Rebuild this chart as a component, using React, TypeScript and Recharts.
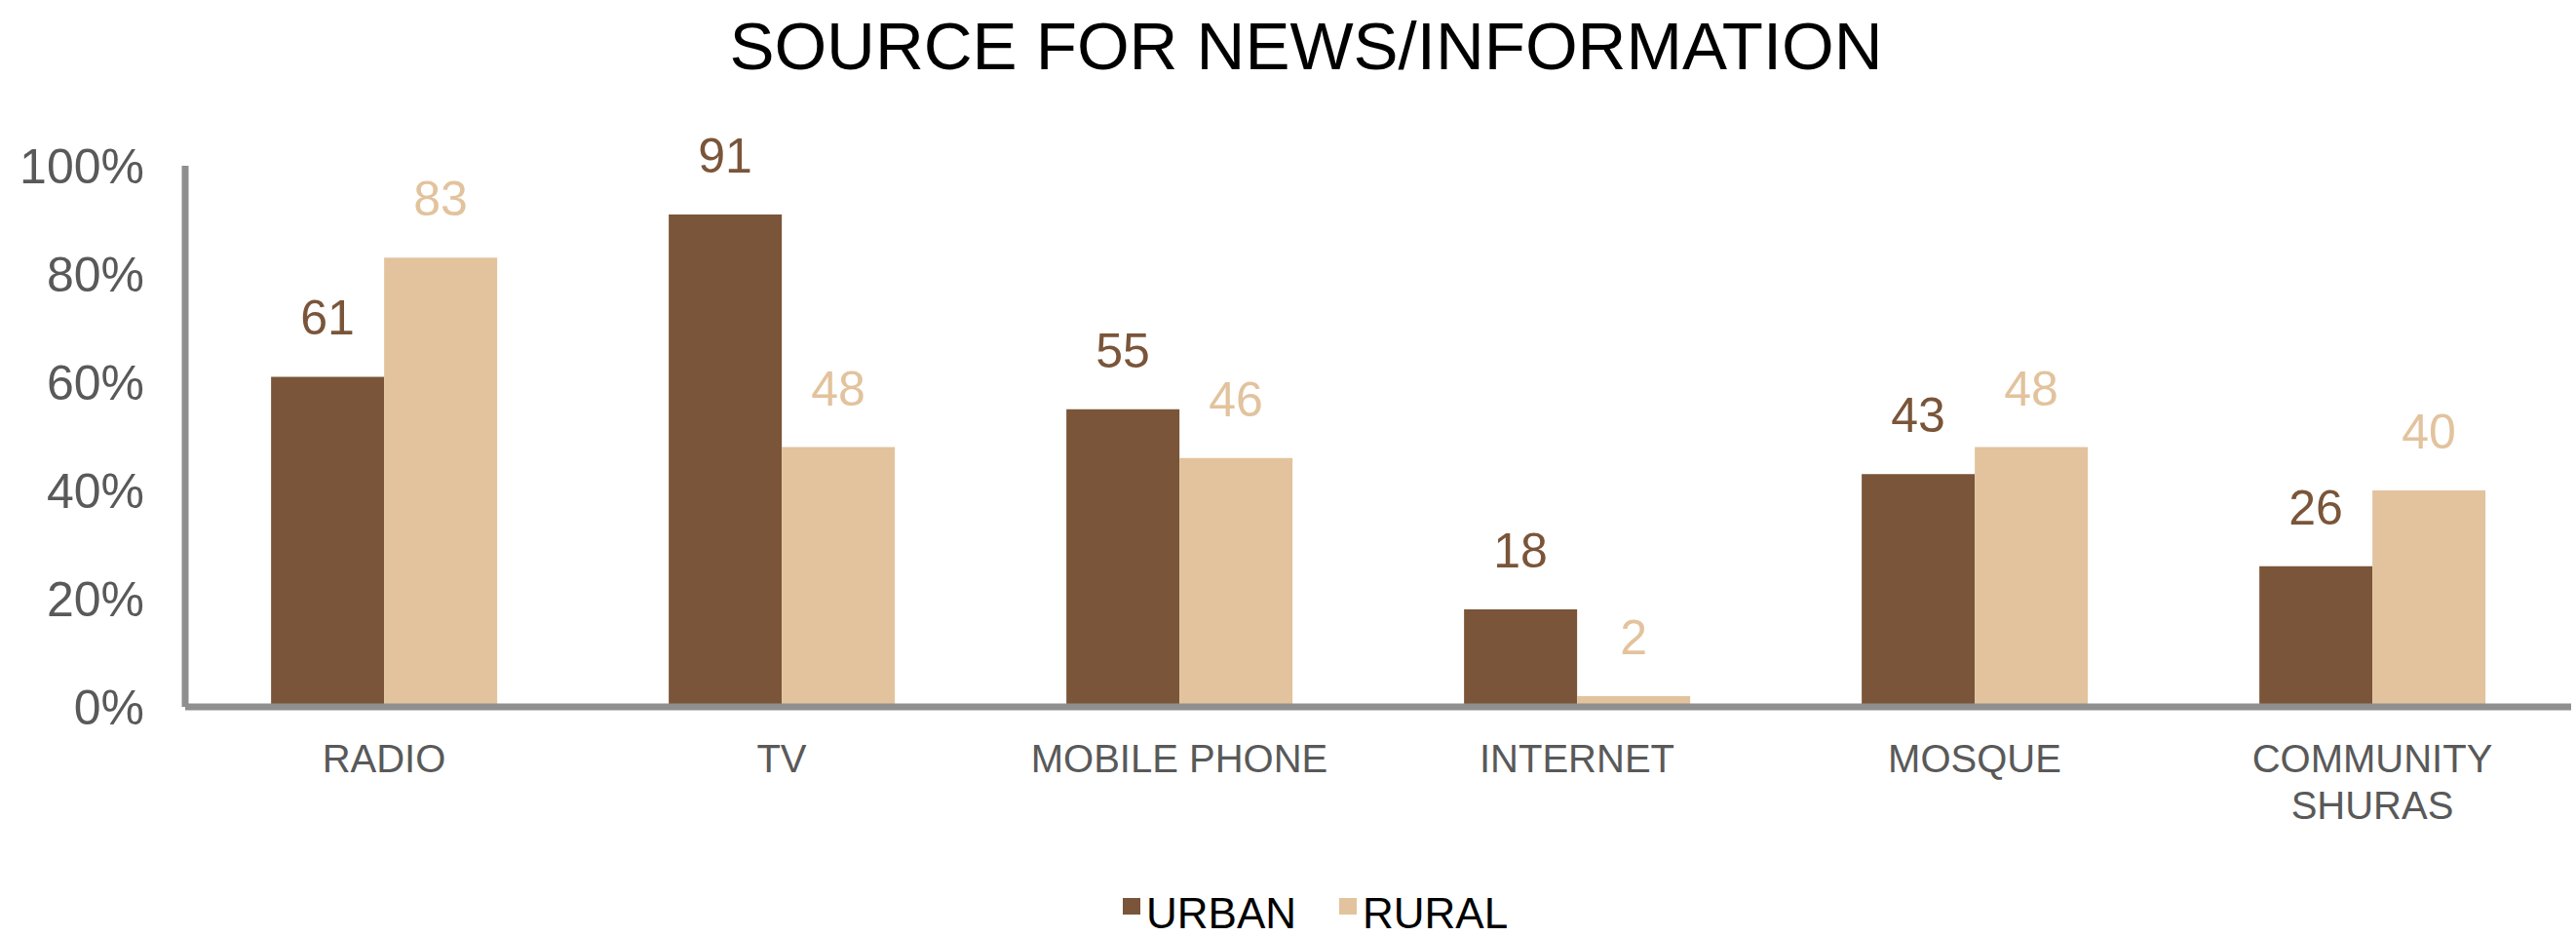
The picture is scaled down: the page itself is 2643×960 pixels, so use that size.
import React from 'react';
import { BarChart, Bar, XAxis, YAxis, LabelList } from 'recharts';

const categories = ['RADIO', 'TV', 'MOBILE PHONE', 'INTERNET', 'MOSQUE', 'COMMUNITY\nSHURAS'];
const urban = [61, 91, 55, 18, 43, 26];
const rural = [83, 48, 46, 2, 48, 40];
const yTicks = [0, 20, 40, 60, 80, 100];
const seriesNames = ['URBAN', 'RURAL'];

const URBAN_COLOR = '#7a5539';
const RURAL_COLOR = '#e2c39d';
const AXIS_COLOR = '#8f8f8f';
const TEXT_GRAY = '#595959';
const FONT = '"Liberation Sans", Arial, Helvetica, sans-serif';

const data = categories.map((name, i) => ({ name, urban: urban[i], rural: rural[i] }));

const CategoryTick = (props: any) => {
  const { x, y, payload } = props;
  const lines = String(payload.value).split('\n');
  return (
    <text x={x} y={y} textAnchor="middle" fill={TEXT_GRAY} fontSize={40} fontFamily={FONT}>
      {lines.map((line, i) => (
        <tspan key={i} x={x} dy={i === 0 ? 67 : 48}>{line}</tspan>
      ))}
    </text>
  );
};

export default function App() {
  const colors = [URBAN_COLOR, RURAL_COLOR];
  return (
    <div style={{ position: 'absolute', left: 0, top: 0, width: 2643, height: 960, background: '#fff', fontFamily: FONT }}>
      <div style={{ position: 'absolute', left: 0, top: 13, width: 2680, textAlign: 'center', fontSize: 69, lineHeight: '69px', color: '#000' }}>
        SOURCE FOR NEWS/INFORMATION
      </div>

      <BarChart
        width={2643}
        height={960}
        data={data}
        margin={{ top: 170, right: 5, bottom: 205, left: 0 }}
        barGap={0}
        barCategoryGap="21.6%"
      >
        <YAxis
          width={190}
          domain={[0, 100]}
          ticks={yTicks}
          tickFormatter={(v) => `${v}%`}
          tickLine={false}
          tickSize={0}
          tickMargin={42}
          axisLine={{ stroke: AXIS_COLOR, strokeWidth: 7 }}
          tick={{ fill: TEXT_GRAY, fontSize: 50, fontFamily: FONT }}
        />
        <XAxis
          dataKey="name"
          height={30}
          tickLine={false}
          tickSize={0}
          tickMargin={0}
          interval={0}
          axisLine={{ stroke: AXIS_COLOR, strokeWidth: 7 }}
          tick={<CategoryTick />}
        />
        <Bar dataKey="urban" name={seriesNames[0]} fill={URBAN_COLOR} isAnimationActive={false}>
          <LabelList dataKey="urban" position="top" offset={43} fill={URBAN_COLOR} fontSize={50} fontFamily={FONT} />
        </Bar>
        <Bar dataKey="rural" name={seriesNames[1]} fill={RURAL_COLOR} isAnimationActive={false}>
          <LabelList dataKey="rural" position="top" offset={43} fill={RURAL_COLOR} fontSize={50} fontFamily={FONT} />
        </Bar>
      </BarChart>

      <div style={{ position: 'absolute', left: 1152, top: 915, display: 'flex', alignItems: 'flex-start', fontSize: 44, lineHeight: '44px', color: '#000' }}>
        {seriesNames.map((s, i) => (
          <div key={s} style={{ display: 'flex', alignItems: 'flex-start', marginRight: i === 0 ? 44 : 0 }}>
            <div style={{ width: 18, height: 17, marginTop: 6, marginRight: 6, background: colors[i] }} />
            <span>{s}</span>
          </div>
        ))}
      </div>
    </div>
  );
}
